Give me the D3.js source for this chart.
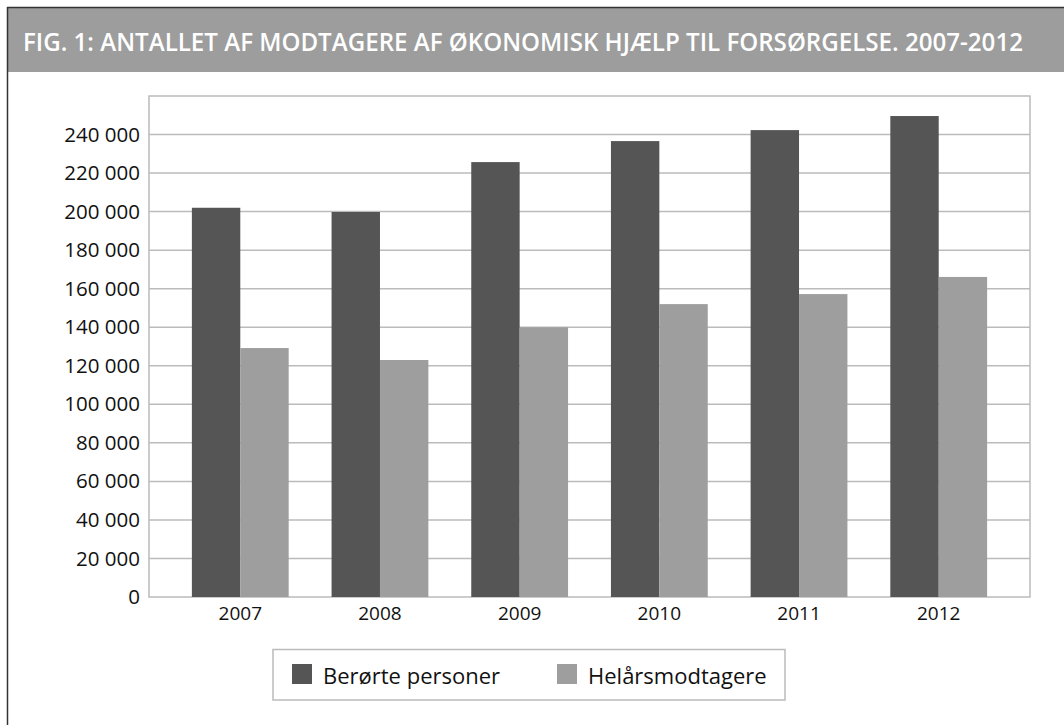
<!DOCTYPE html>
<html>
<head>
<meta charset="utf-8">
<script src="https://cdn.jsdelivr.net/npm/d3@7"></script>
<style>
  body { margin: 0; background: #fff; }
  svg { display: block; font-family: "Open Sans", "DejaVu Sans", sans-serif; }
</style>
</head>
<body>
<script>
// chart data
var years = ["2007", "2008", "2009", "2010", "2011", "2012"];
var seriesNames = ["Berørte personer", "Helårsmodtagere"];
var beroerte = [202000, 199800, 225700, 236600, 242300, 249600];
var helaars = [129200, 123000, 140000, 152000, 157200, 166100];
var yTicks = [0, 20000, 40000, 60000, 80000, 100000, 120000, 140000, 160000, 180000, 200000, 220000, 240000];
var titleText = "FIG. 1: ANTALLET AF MODTAGERE AF ØKONOMISK HJÆLP TIL FORSØRGELSE. 2007-2012";

var colors = ["#555555", "#9d9e9d"];

var width = 1064,
    height = 725;

var svg = d3.select("body")
    .append("svg")
    .attr("width", width)
    .attr("height", height);

//frame and title band
svg.append("rect")
    .attr("x", 8).attr("y", 8)
    .attr("width", width - 8).attr("height", 64)
    .attr("fill", "#9c9d9c");

svg.append("line")
    .attr("x1", 7).attr("x2", width)
    .attr("y1", 7.5).attr("y2", 7.5)
    .attr("stroke", "#333").attr("stroke-width", 1.5);
svg.append("line")
    .attr("x1", 7.5).attr("x2", 7.5)
    .attr("y1", 7).attr("y2", height)
    .attr("stroke", "#333").attr("stroke-width", 1.5);

svg.append("text")
    .attr("x", 23).attr("y", 51)
    .attr("fill", "#fff")
    .attr("font-size", 25)
    .attr("font-weight", 600)
    .attr("textLength", 1000)
    .attr("lengthAdjust", "spacingAndGlyphs")
    .text(titleText);

//plot area
var plot = { left: 149, right: 1030, top: 96, bottom: 597 };

var x = d3.scaleBand()
    .domain(years)
    .range([plot.left, plot.right])
    .paddingInner(0.307)
    .paddingOuter(0.307);

var xSub = d3.scaleBand()
    .domain(seriesNames)
    .range([0, x.bandwidth()]);

var y = d3.scaleLinear()
    .domain([0, 260000])
    .range([plot.bottom, plot.top]);

//gridlines
svg.append("g")
    .selectAll("line")
    .data(yTicks.slice(1))
    .enter()
    .append("line")
    .attr("x1", plot.left).attr("x2", plot.right)
    .attr("y1", function(d){ return y(d); })
    .attr("y2", function(d){ return y(d); })
    .attr("stroke", "#bbbbbb")
    .attr("stroke-width", 1.5);

svg.append("rect")
    .attr("x", plot.left).attr("y", plot.top)
    .attr("width", plot.right - plot.left)
    .attr("height", plot.bottom - plot.top)
    .attr("fill", "none")
    .attr("stroke", "#bbbbbb")
    .attr("stroke-width", 1.5);

//bars
var rows = years.map(function(yr, i){
    return { year: yr, values: [beroerte[i], helaars[i]] };
});

var groups = svg.selectAll(".group")
    .data(rows)
    .enter()
    .append("g")
    .attr("class", "group")
    .attr("transform", function(d){ return "translate(" + x(d.year) + ",0)"; });

groups.selectAll("rect")
    .data(function(d){
        return d.values.map(function(v, j){ return { name: seriesNames[j], value: v, idx: j }; });
    })
    .enter()
    .append("rect")
    .attr("x", function(d){ return xSub(d.name); })
    .attr("width", xSub.bandwidth())
    .attr("y", function(d){ return y(d.value); })
    .attr("height", function(d){ return y(0) - y(d.value); })
    .attr("fill", function(d){ return colors[d.idx]; });

//y axis labels
var yAxis = d3.axisLeft(y)
    .tickValues(yTicks)
    .tickSize(0)
    .tickPadding(9)
    .tickFormat(function(d){ return d3.format(",")(d).replace(/,/g, " "); });

var yg = svg.append("g")
    .attr("transform", "translate(" + plot.left + ",0)")
    .call(yAxis);
yg.select(".domain").remove();
yg.selectAll("text")
    .attr("font-size", 20.5)
    .attr("font-family", "\"Open Sans\", sans-serif")
    .attr("fill", "#111");

//x axis labels
var xAxis = d3.axisBottom(x)
    .tickSize(0)
    .tickPadding(10);

var xg = svg.append("g")
    .attr("transform", "translate(0," + plot.bottom + ")")
    .call(xAxis);
xg.select(".domain").remove();
xg.selectAll("text")
    .attr("font-size", 19)
    .attr("font-family", "\"Open Sans\", sans-serif")
    .attr("fill", "#111");

//legend
var legend = svg.append("g");
legend.append("rect")
    .attr("x", 273).attr("y", 649.5)
    .attr("width", 512).attr("height", 50.5)
    .attr("fill", "#fff")
    .attr("stroke", "#bbbbbb")
    .attr("stroke-width", 1.5);

var legendX = [292, 557];
var items = legend.selectAll(".item")
    .data(seriesNames)
    .enter()
    .append("g")
    .attr("class", "item")
    .attr("transform", function(d, i){ return "translate(" + legendX[i] + ",664)"; });

items.append("rect")
    .attr("width", 20).attr("height", 20)
    .attr("fill", function(d, i){ return colors[i]; });

items.append("text")
    .attr("x", 31).attr("y", 20)
    .attr("font-size", 22)
    .attr("fill", "#111")
    .text(function(d){ return d; });
</script>
</body>
</html>
